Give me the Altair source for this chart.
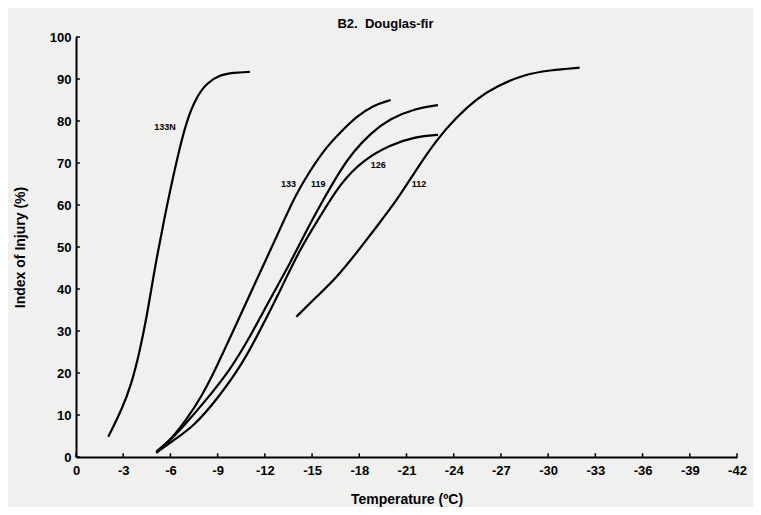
import altair as alt
import pandas as pd

# ---- data ----
t_133N = [-2.05, -2.9, -3.54, -4.07, -4.49, -4.81, -5.13, -5.76, -6.4, -7.03, -7.67, -8.3, -9.15, -10.0, -11.05]
y_133N = [4.8, 11.2, 17.5, 25.5, 33.4, 40.5, 47.5, 59.6, 70.7, 80.2, 85.8, 89.0, 91.0, 91.5, 91.7]

t_133 = [-5.1, -6.0, -7.0, -8.0, -8.94, -9.8, -10.6, -11.7, -12.75, -14.0, -14.9, -15.8, -16.8, -17.8, -18.9, -20.0]
y_133 = [1.3, 4.0, 8.8, 14.5, 21.5, 28.5, 35.0, 44.0, 52.5, 62.8, 68.3, 73.3, 77.3, 81.0, 83.8, 85.0]

t_119 = [-5.1, -6.0, -6.8, -8.1, -9.8, -11.05, -12.3, -13.6, -14.65, -15.7, -16.8, -17.6, -18.7, -19.95, -21.6, -23.0]
y_119 = [1.0, 4.0, 7.2, 12.8, 20.7, 28.6, 37.4, 46.1, 54.0, 61.2, 68.3, 72.6, 77.0, 80.6, 83.0, 83.8]

t_126 = [-5.1, -6.2, -7.45, -8.94, -10.6, -11.7, -13.0, -14.2, -15.5, -16.8, -18.25, -19.95, -21.6, -23.0]
y_126 = [1.0, 4.0, 7.2, 13.6, 22.3, 30.2, 39.8, 49.3, 57.2, 65.2, 70.7, 74.3, 76.3, 76.7]

t_112 = [-14.0, -15.3, -16.6, -17.8, -19.1, -20.4, -21.6, -22.9, -24.2, -25.5, -26.7, -28.4, -30.1, -32.0]
y_112 = [33.4, 38.2, 42.9, 48.5, 54.8, 61.2, 68.3, 75.5, 81.0, 85.4, 88.2, 91.0, 92.1, 92.7]

label_names = ["133N", "133", "119", "126", "112"]
label_t = [-5.65, -13.5, -15.4, -19.2, -21.8]
label_y = [78.6, 65.0, 65.0, 69.5, 65.0]

x_ticks = [0, -3, -6, -9, -12, -15, -18, -21, -24, -27, -30, -33, -36, -39, -42]
y_ticks = [0, 10, 20, 30, 40, 50, 60, 70, 80, 90, 100]

series = {"133N": (t_133N, y_133N), "133": (t_133, y_133), "119": (t_119, y_119),
          "126": (t_126, y_126), "112": (t_112, y_112)}

rows = []
for name, (ts, ys) in series.items():
    for i, (t, v) in enumerate(zip(ts, ys)):
        rows.append({"series": name, "temp": t, "injury": v, "order": i})
df = pd.DataFrame(rows)
labels = pd.DataFrame({"name": label_names, "temp": label_t, "injury": label_y})

# inward tick marks (drawn as short rules in data units)
xt = pd.DataFrame({"temp": x_ticks, "y0": [0] * len(x_ticks), "y1": [0.9] * len(x_ticks)})
yt = pd.DataFrame({"injury": y_ticks, "x0": [0] * len(y_ticks), "x1": [-0.25] * len(y_ticks)})

FONT = "Liberation Sans"

x_enc = alt.X("temp:Q",
              scale=alt.Scale(domain=[0, -42], nice=False, zero=False),
              axis=alt.Axis(values=x_ticks, title="Temperature (ºC)",
                            labelExpr="datum.value == 0 ? '0' : '-' + abs(datum.value)",
                            grid=False, ticks=False,
                            domainColor="black", domainWidth=2,
                            labelFont=FONT, labelFontSize=13, labelFontWeight="bold",
                            labelColor="black", labelPadding=7, labelFlush=False,
                            titleFont=FONT, titleFontSize=14, titleFontWeight="bold",
                            titleColor="black", titlePadding=15))
y_enc = alt.Y("injury:Q",
              scale=alt.Scale(domain=[0, 100], nice=False),
              axis=alt.Axis(values=y_ticks, title="Index of Injury (%)",
                            grid=False, ticks=False,
                            domainColor="black", domainWidth=2,
                            labelFont=FONT, labelFontSize=13, labelFontWeight="bold",
                            labelColor="black", labelPadding=5,
                            titleFont=FONT, titleFontSize=14, titleFontWeight="bold",
                            titleColor="black", titlePadding=22))

lines = alt.Chart(df).mark_line(color="black", strokeWidth=2.2, interpolate="basis").encode(
    x=x_enc, y=y_enc, detail="series:N", order="order:Q")

xticks_layer = alt.Chart(xt).mark_rule(color="black", strokeWidth=1.5).encode(
    x="temp:Q", y="y0:Q", y2="y1:Q")
yticks_layer = alt.Chart(yt).mark_rule(color="black", strokeWidth=1.5).encode(
    y="injury:Q", x="x0:Q", x2="x1:Q")

texts = alt.Chart(labels).mark_text(font=FONT, fontSize=9, fontWeight="bold", color="black").encode(
    x="temp:Q", y="injury:Q", text="name:N")

chart = alt.layer(lines, xticks_layer, yticks_layer, texts).properties(
    width=661, height=420,
    title=alt.TitleParams("B2. \u00a0Douglas-fir", font=FONT, fontSize=13, fontWeight="bold",
                          color="black", anchor="middle", dx=-21, offset=0),
    background="#f0f0ef",
    padding={"left": 68, "top": 29, "right": 16, "bottom": 50},
    autosize=alt.AutoSizeParams(type="none"),
).configure_view(stroke=None)

chart.save("out.html", embed_options={"renderer": "svg", "actions": False})
